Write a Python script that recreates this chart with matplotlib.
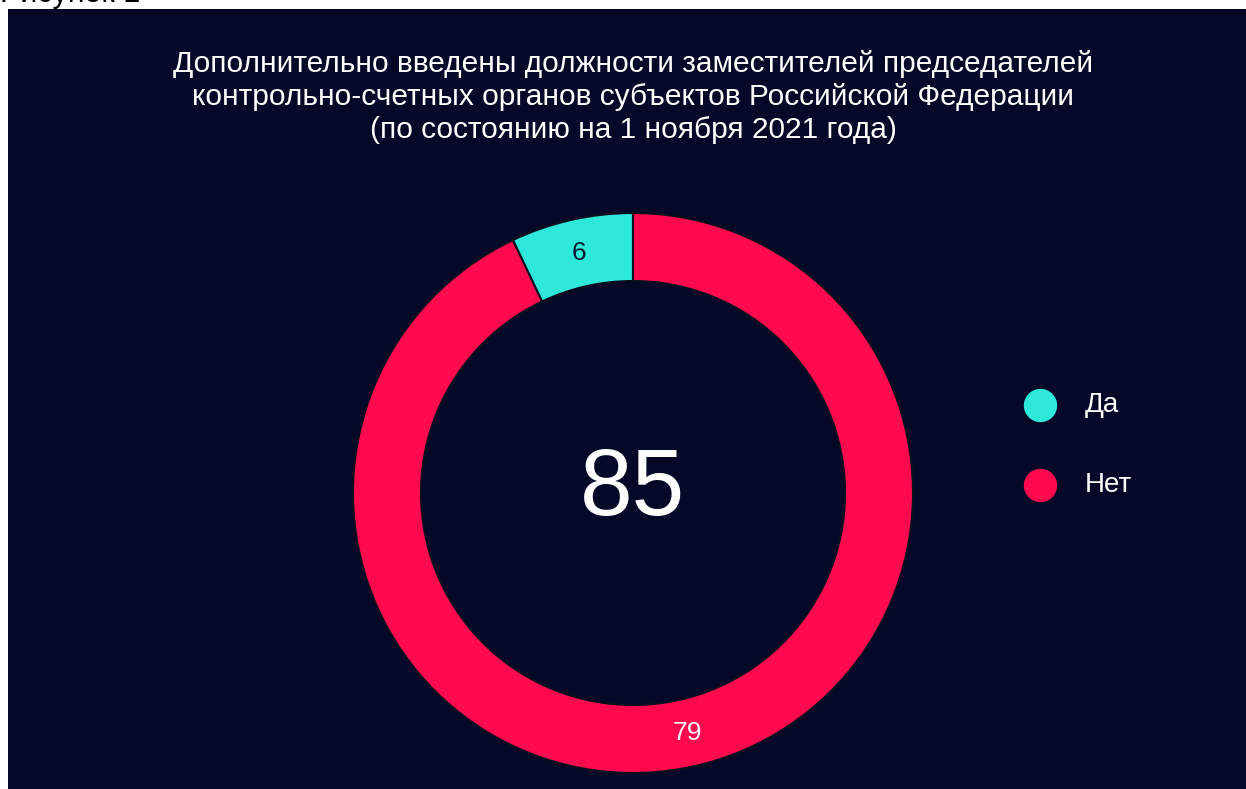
import matplotlib.pyplot as plt

plt.rcParams['font.family'] = ['Liberation Sans', 'DejaVu Sans']

title = ("Дополнительно введены должности заместителей председателей\n"
         "контрольно-счетных органов субъектов Российской Федерации\n"
         "(по состоянию на 1 ноября 2021 года)")
labels = ["Да", "Нет"]
values = [6, 79]
colors = ["#2ee8da", "#ff0a4f"]
label_colors = ["#0a1a33", "#f4f4f4"]
bg = "#050826"

W, H = 1246, 789
fig = plt.figure(figsize=(W / 100, H / 100), dpi=100)
fig.patch.set_facecolor("white")

# dark panel
bg_ax = fig.add_axes([8 / W, 0, 1 - 8 / W, (H - 9) / H], zorder=-10)
bg_ax.set_facecolor(bg)
bg_ax.set_xticks([])
bg_ax.set_yticks([])
for s in bg_ax.spines.values():
    s.set_visible(False)

# caption above the panel, cut off by the top edge as in the source
fig.text(0.0, 1.0 + 6 / H, "Рисунок 1", fontsize=22, color="black",
         ha="left", va="center")

fig.text(633 / W, 1 - 97 / H, title, fontsize=21.5, color="white",
         ha="center", va="center", linespacing=1.24)

cx, cy, r = 633, H - 493, 280
ax = fig.add_axes([(cx - r) / W, (cy - r) / H, 2 * r / W, 2 * r / H])
ax.set_facecolor("none")

total = sum(values)
wedges, texts, autotexts = ax.pie(
    values, colors=colors, startangle=90, counterclock=True, radius=1,
    wedgeprops=dict(width=68 / 280, edgecolor="#0a0f20", linewidth=1.5),
    autopct=lambda p: f"{round(p * total / 100)}", pctdistance=0.88)
for t, c in zip(autotexts, label_colors):
    t.set_color(c)
    t.set_fontsize(19)
ax.set_xlim(-1, 1)
ax.set_ylim(-1, 1)
ax.set_aspect("equal")
ax.axis("off")

ax.text(0, 0.01, str(total), fontsize=68, color="white", ha="center", va="center")

# legend
for i, (lab, col) in enumerate(zip(labels, colors)):
    y = 1 - (405 + 80 * i) / H
    fig.lines.append(plt.Line2D([1040 / W], [y], marker="o", markersize=23,
                                color=col, linestyle="none",
                                transform=fig.transFigure))
    fig.text(1085 / W, y, lab, fontsize=20, color="white", ha="left", va="center")

fig.savefig("out.png", dpi=100, facecolor=fig.get_facecolor())
